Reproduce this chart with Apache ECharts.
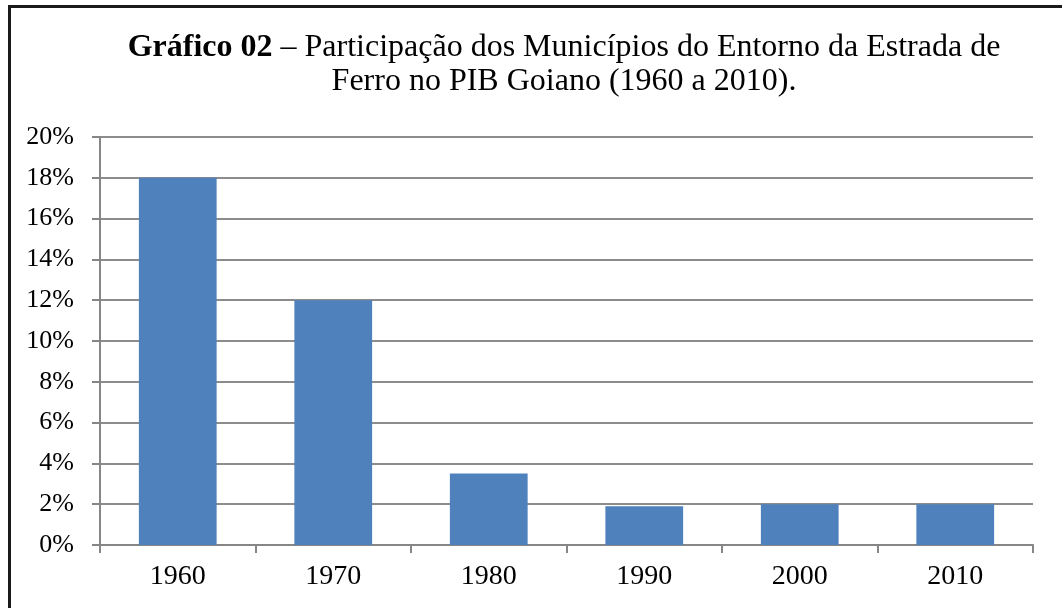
<!DOCTYPE html>
<html>
<head>
<meta charset="utf-8">
<script src="https://cdn.jsdelivr.net/npm/echarts@6/dist/echarts.min.js"></script>
<style>
  html, body { margin: 0; padding: 0; background: #fff; overflow: hidden; }
  #frame { position: absolute; left: 8px; top: 5px; width: 1060px; height: 610px; border-top: 3px solid #1a1a1a; border-left: 3px solid #1a1a1a; box-sizing: border-box; }
  #chart { position: absolute; left: 0; top: 0; width: 1062px; height: 608px; }
</style>
</head>
<body>
<div id="frame"></div>
<div id="chart"></div>
<script>
var categories = ['1960', '1970', '1980', '1990', '2000', '2010']
var share = [18, 12, 3.5, 1.9, 2.0, 2.0]
var yTicks = [0, 2, 4, 6, 8, 10, 12, 14, 16, 18, 20]

var serif = '"Liberation Serif", "Times New Roman", serif'
var chart = echarts.init(document.getElementById('chart'))
chart.setOption({
  animation: false,
  title: {
    text: '{b|Gráfico 02} – Participação dos Municípios do Entorno da Estrada de\nFerro no PIB Goiano (1960 a 2010).',
    left: 559,
    top: 26,
    textAlign: 'center',
    textStyle: {
      fontFamily: serif, fontSize: 32, fontWeight: 'normal', color: '#000', lineHeight: 34,
      rich: { b: { fontFamily: serif, fontSize: 32, fontWeight: 'bold', color: '#000', lineHeight: 34 } }
    }
  },
  grid: { left: 100, right: 29, top: 137, bottom: 63 },
  xAxis: {
    type: 'category',
    data: categories,
    axisLine: { lineStyle: { color: '#868686', width: 2 } },
    axisTick: { show: true, length: 8, lineStyle: { color: '#868686', width: 2 } },
    axisLabel: { fontFamily: serif, fontSize: 28, color: '#000', margin: 18 }
  },
  yAxis: {
    type: 'value',
    min: yTicks[0],
    max: yTicks[yTicks.length - 1],
    interval: 2,
    axisLine: { show: true, lineStyle: { color: '#868686', width: 2 } },
    axisTick: { show: true, length: 8, lineStyle: { color: '#868686', width: 2 } },
    splitLine: { lineStyle: { color: '#8c8c8c', width: 2 } },
    axisLabel: { fontFamily: serif, fontSize: 26, color: '#000', margin: 26, formatter: '{value}%' }
  },
  series: [{
    type: 'bar',
    data: share,
    barWidth: '50%',
    itemStyle: { color: '#4F81BD' }
  }]
})
</script>
</body>
</html>
